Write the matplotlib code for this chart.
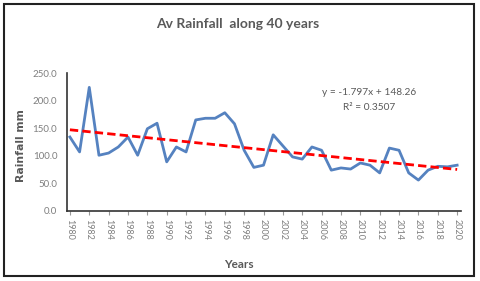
import matplotlib
matplotlib.use('Agg')
import matplotlib.pyplot as plt
import numpy as np

# Average rainfall per year (mm)
years = np.arange(1980, 2021)
rainfall = [134, 107, 224, 101, 105, 116, 134, 101, 149, 159,
            89, 116, 107, 165, 168, 168, 178, 158, 110, 79,
            83, 138, 118, 98, 94, 116, 110, 74, 78, 76,
            87, 83, 69, 114, 110, 69, 56, 74, 81, 80,
            83]
equation_text = 'y = -1.797x + 148.26'
r2_text = 'R² = 0.3507'
yticks = [0, 50, 100, 150, 200, 250]
xticks = list(range(1980, 2021, 2))

plt.rcParams['font.family'] = ['Lato', 'DejaVu Sans']
grey = '#595959'
light = '#7F7F7F'

fig = plt.figure(figsize=(4.8, 2.81), dpi=100)
ax = fig.add_axes([67 / 480, 1 - 211 / 281, (461 - 67) / 480, (211 - 73) / 281])

# chart border
fig.patches.append(plt.Rectangle((4 / 480, 5 / 281), 470 / 480, 272 / 281,
                                 transform=fig.transFigure, fill=False,
                                 edgecolor='#222222', linewidth=1.5))

ax.plot(years, rainfall, color='#5582C0', linewidth=2.0, zorder=3)

# linear trendline, x = 1..41 as in the spreadsheet
xi = np.arange(1, len(years) + 1)
slope, intercept = np.polyfit(xi, rainfall, 1)
ax.plot(years, slope * xi + intercept, color='#FF0000', linewidth=2.0,
        linestyle=(0, (3, 1.5)), zorder=4)

ax.set_xlim(1979.7, 2020.4)
ax.set_ylim(0, 250)
ax.set_yticks(yticks)
ax.set_yticklabels([f'{v:.1f}' for v in yticks], fontsize=7, color=light)
ax.set_xticks(xticks)
ax.set_xticklabels([str(y) for y in xticks], rotation=270, fontsize=6.5, color=light)
ax.tick_params(axis='y', length=0, pad=7)
ax.tick_params(axis='x', length=3, color='#999999', pad=3)

for s in ['top', 'right']:
    ax.spines[s].set_visible(False)
ax.spines['left'].set_color('#333333')
ax.spines['bottom'].set_color('#333333')
ax.spines['left'].set_linewidth(1.2)
ax.spines['bottom'].set_linewidth(1.2)

fig.text(238 / 480, 1 - 24 / 281, 'Av Rainfall  along 40 years', ha='center',
         va='center', fontsize=10, fontweight='bold', color=grey)
fig.text(239 / 480, 1 - 265 / 281, 'Years', ha='center', va='center',
         fontsize=8.5, fontweight='bold', color=grey)
fig.text(21 / 480, 1 - 146 / 281, 'Rainfall mm', ha='center', va='center',
         rotation=90, fontsize=7.8, fontweight='bold', color=grey,
         family='DejaVu Sans')

ax.text(2010.9, 214, equation_text, ha='center', va='center', fontsize=7.3,
        color=grey)
ax.text(2010.9, 187, r2_text, ha='center', va='center', fontsize=7.3,
        color=grey)

fig.savefig('out.png', dpi=100)
